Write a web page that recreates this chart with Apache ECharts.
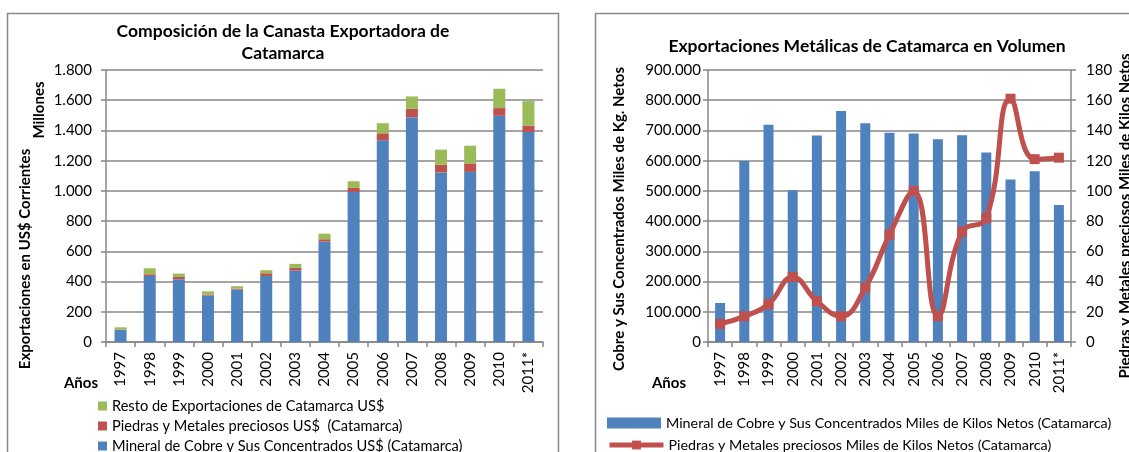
<!DOCTYPE html>
<html>
<head>
<meta charset="utf-8">
<script src="https://cdn.jsdelivr.net/npm/echarts@6/dist/echarts.min.js"></script>
<style>
html,body{margin:0;padding:0;background:#fff;}
#chart{width:1129px;height:452px;}
</style>
</head>
<body>
<div id="chart"></div>
<script>
// ---- Data ----
const years = ['1997','1998','1999','2000','2001','2002','2003','2004','2005','2006','2007','2008','2009','2010','2011*'];
// Left chart: Exportaciones en US$ corrientes (millones)
const cobreUSD   = [80, 437, 415, 307, 347, 437, 472, 664, 993, 1335, 1488, 1122, 1126, 1497, 1390];
const piedrasUSD = [2, 11, 15, 6, 6, 18, 18, 16, 27, 46, 55, 51, 56, 51, 42];
const restoUSD   = [15, 40, 23, 22, 16, 20, 27, 37, 44, 67, 82, 100, 117, 128, 162];
// Right chart: volumen
const cobreKg    = [129000, 599000, 719000, 502000, 683000, 764000, 724000, 692000, 690000, 671000, 684000, 627000, 538000, 565000, 453000];
const piedrasKg  = [12, 17, 25, 43, 27, 17, 36, 71, 100, 17, 73, 82, 161, 121, 122];

const leftTicks  = {min: 0, max: 1800, interval: 200};
const rightTicks = {min: 0, max: 900000, interval: 100000};
const right2Ticks = {min: 0, max: 180, interval: 20};

const nameResto   = 'Resto de Exportaciones de Catamarca US$';
const namePiedras = 'Piedras y Metales preciosos US$  (Catamarca)';
const nameCobre   = 'Mineral de Cobre y Sus Concentrados US$ (Catamarca)';
const nameCobreKg = 'Mineral de Cobre y Sus Concentrados Miles de Kilos Netos (Catamarca)';
const namePiedrasKg = 'Piedras y Metales preciosos Miles de Kilos Netos (Catamarca)';

// ---- Styles ----
const FONT = 'Lato, "Liberation Sans", sans-serif';
const GRID = '#878787';
const BLUE = '#4F81BD', RED = '#C0504D', GREEN = '#9BBB59';
const thousands = v => String(v).replace(/\B(?=(\d{3})+(?!\d))/g, '.');

const chart = echarts.init(document.getElementById('chart'), null, {renderer: 'canvas'});

const catAxis = (gi) => ({
  type: 'category', gridIndex: gi, data: years,
  axisLine: {show: true, lineStyle: {color: GRID, width: 1.5}},
  axisTick: {show: true, length: 5, lineStyle: {color: GRID, width: 1.5}},
  axisLabel: {rotate: 90, margin: 10, fontSize: 15, color: '#000', fontFamily: FONT},
  splitLine: {show: false}
});

const valAxis = (gi, t, pos, margin, split) => ({
  type: 'value', gridIndex: gi, position: pos,
  min: t.min, max: t.max, interval: t.interval,
  axisLine: {show: true, lineStyle: {color: GRID, width: 1.5}},
  axisTick: {show: true, length: 5, lineStyle: {color: GRID, width: 1.5}},
  axisLabel: {margin: margin, fontSize: 15, color: '#000', fontFamily: FONT, formatter: thousands},
  splitLine: {show: split, lineStyle: {color: GRID, width: 1.5}}
});

const boldText = (text, x, y, rot, size) => ({
  type: 'text', x: x, y: y, rotation: rot || 0,
  style: {text: text, font: 'bold ' + (size || 14) + 'px ' + FONT, fill: '#000', align: 'center', verticalAlign: 'middle'}
});

const legendItem = (name, left, top, w, h, icon, size, extra) => Object.assign({
  data: [name], left: left, top: top, padding: 0,
  icon: icon, itemWidth: w, itemHeight: h, itemGap: 0,
  textStyle: {fontSize: size, lineHeight: 16, color: '#000', fontFamily: FONT},
  selectedMode: false
}, extra || {});

const option = {
  animation: false,
  grid: [
    {left: 106, top: 70, width: 437, height: 272},
    {left: 708, top: 70, width: 363, height: 272}
  ],
  xAxis: [catAxis(0), catAxis(1)],
  yAxis: [
    valAxis(0, leftTicks, 'left', 14, true),
    valAxis(1, rightTicks, 'left', 7, true),
    valAxis(1, right2Ticks, 'right', 15, false)
  ],
  legend: [
    legendItem(nameResto, 98, 398, 9, 9, 'rect', 14.6),
    legendItem(namePiedras, 98, 418, 9, 9, 'rect', 14.6),
    legendItem(nameCobre, 98, 438, 9, 9, 'rect', 14.6),
    legendItem(nameCobreKg, 607, 415, 54, 11, 'rect', 14.3),
    legendItem(namePiedrasKg, 607, 437, 54, 11, undefined, 14.3, {lineStyle: {width: 5, color: RED}, itemStyle: {color: RED}})
  ],
  series: [
    {name: nameCobre, type: 'bar', stack: 'usd', xAxisIndex: 0, yAxisIndex: 0, data: cobreUSD, barWidth: 12, itemStyle: {color: BLUE}},
    {name: namePiedras, type: 'bar', stack: 'usd', xAxisIndex: 0, yAxisIndex: 0, data: piedrasUSD, barWidth: 12, itemStyle: {color: RED}},
    {name: nameResto, type: 'bar', stack: 'usd', xAxisIndex: 0, yAxisIndex: 0, data: restoUSD, barWidth: 12, itemStyle: {color: GREEN}},
    {name: nameCobreKg, type: 'bar', xAxisIndex: 1, yAxisIndex: 1, data: cobreKg, barWidth: 10, itemStyle: {color: BLUE}},
    {name: namePiedrasKg, type: 'line', xAxisIndex: 1, yAxisIndex: 2, data: piedrasKg, smooth: 0.45,
     symbol: 'rect', symbolSize: 10, z: 5,
     lineStyle: {color: RED, width: 5}, itemStyle: {color: RED}}
  ],
  graphic: [
    {type: 'rect', shape: {x: 7.5, y: 13.5, width: 551, height: 470}, style: {fill: 'none', stroke: '#8a8a8a', lineWidth: 1.5}, z: -1},
    {type: 'rect', shape: {x: 595.5, y: 13.5, width: 620, height: 470}, style: {fill: 'none', stroke: '#8a8a8a', lineWidth: 1.5}, z: -1},
    boldText('Composición de la Canasta Exportadora de', 283, 31, 0, 17.5),
    boldText('Catamarca', 283, 53, 0, 17.5),
    boldText('Exportaciones Metálicas de Catamarca en Volumen', 867, 46, 0, 17.5),
    boldText('Millones', 39, 110, Math.PI / 2, 15),
    boldText('Exportaciones en US$ Corrientes', 25, 259, Math.PI / 2, 15),
    boldText('Cobre y Sus Concentrados Miles de Kg. Netos', 619, 219, Math.PI / 2, 15),
    boldText('Piedras y Metales preciosos Miles de Kilos Netos', 1125, 216, Math.PI / 2, 15),
    boldText('Años', 81, 383, 0, 15),
    boldText('Años', 669, 383, 0, 15)
  ]
};
chart.setOption(option);
</script>
</body>
</html>
